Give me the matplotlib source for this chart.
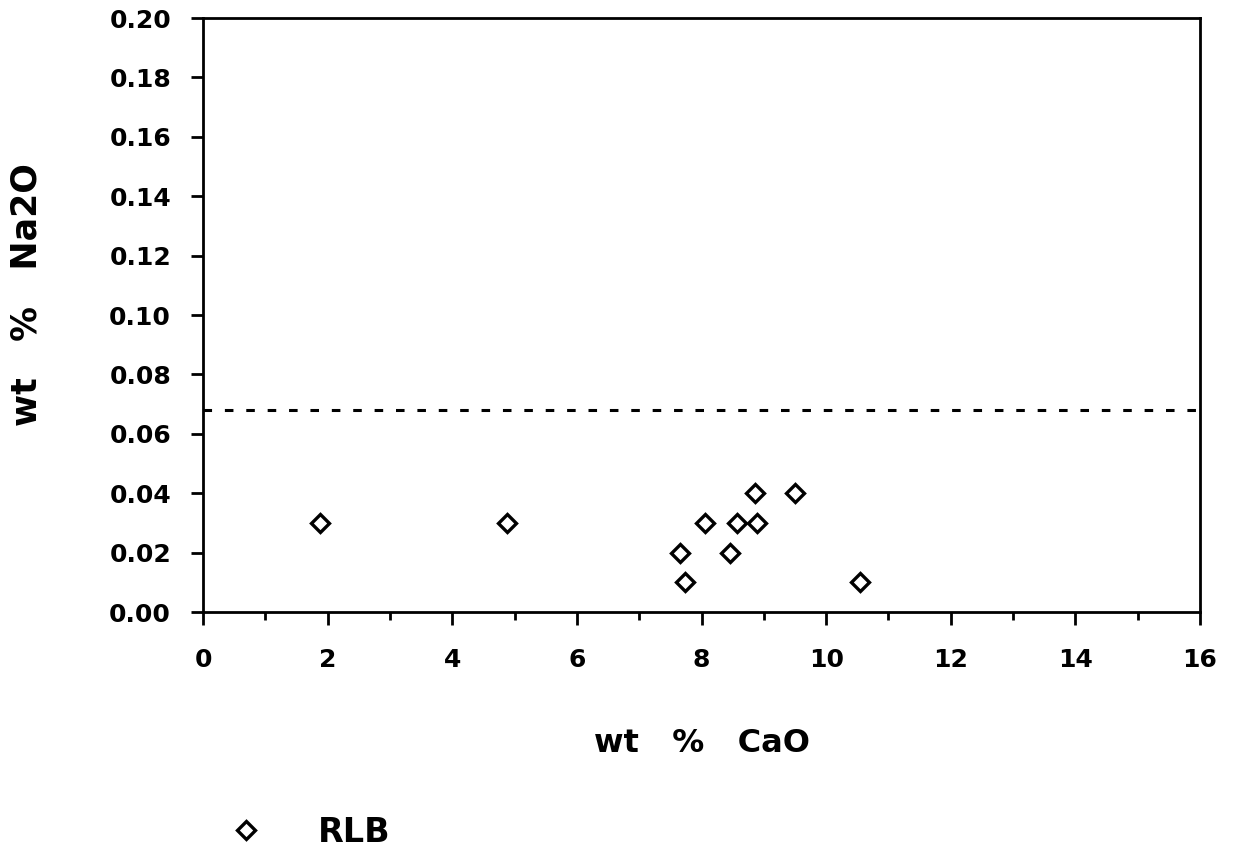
import matplotlib
matplotlib.use("Agg")
import matplotlib.pyplot as plt
from matplotlib.ticker import MultipleLocator, FormatStrFormatter
from matplotlib.lines import Line2D

# Data
cao = [1.87, 4.88, 7.66, 7.74, 8.06, 8.46, 8.57, 8.86, 8.89, 9.50, 10.55]
na2o = [0.03, 0.03, 0.02, 0.01, 0.03, 0.02, 0.03, 0.04, 0.03, 0.04, 0.01]
detection_limit = 0.068
series_name = "RLB"
x_label = "wt   %   CaO"
y_label = "wt   %   Na2O"

plt.rcParams['font.family'] = ['DejaVu Sans']
plt.rcParams['font.weight'] = 'bold'

fig = plt.figure(figsize=(12.34, 8.52), dpi=100)
ax = fig.add_axes([203/1234, 1-612/852, (1200-203)/1234, (612-18)/852])

ax.plot(cao, na2o, linestyle='none', marker='D', ms=9.5, mfc='white',
        mec='black', mew=2.4, zorder=3)
ax.axhline(detection_limit, color='black', lw=2.2, dashes=(2.8, 4.2))

ax.set_xlim(0, 16)
ax.set_ylim(0, 0.20)
ax.xaxis.set_major_locator(MultipleLocator(2))
ax.xaxis.set_minor_locator(MultipleLocator(1))
ax.yaxis.set_major_locator(MultipleLocator(0.02))
ax.yaxis.set_major_formatter(FormatStrFormatter('%.2f'))

for s in ax.spines.values():
    s.set_linewidth(2.0)

ax.tick_params(axis='x', which='major', direction='out', length=9, width=2,
               pad=17, labelsize=18)
ax.tick_params(axis='x', which='minor', direction='out', length=6, width=2)
ax.tick_params(axis='y', which='major', direction='out', length=9, width=2,
               pad=14, labelsize=18)
for lab in ax.get_xticklabels() + ax.get_yticklabels():
    lab.set_fontweight('bold')

ax.set_xlabel(x_label, fontsize=23, fontweight='bold')
ax.set_ylabel(y_label, fontsize=25, fontweight='bold')
ax.xaxis.set_label_coords(0.5, -(728-612)/594)
ax.yaxis.set_label_coords(-(203-44)/997, (612-295)/594)

handle = Line2D([], [], linestyle='none', marker='D', ms=9, mfc='white',
                mec='black', mew=2.4)
fig.legend([handle], [series_name], loc='center left',
           bbox_to_anchor=(229/1234, 1-832/852), frameon=False,
           borderaxespad=0, borderpad=0,
           handletextpad=1.66, prop={'size': 24, 'weight': 'bold'},
           handlelength=1.0)

fig.savefig("out.png", dpi=100)
